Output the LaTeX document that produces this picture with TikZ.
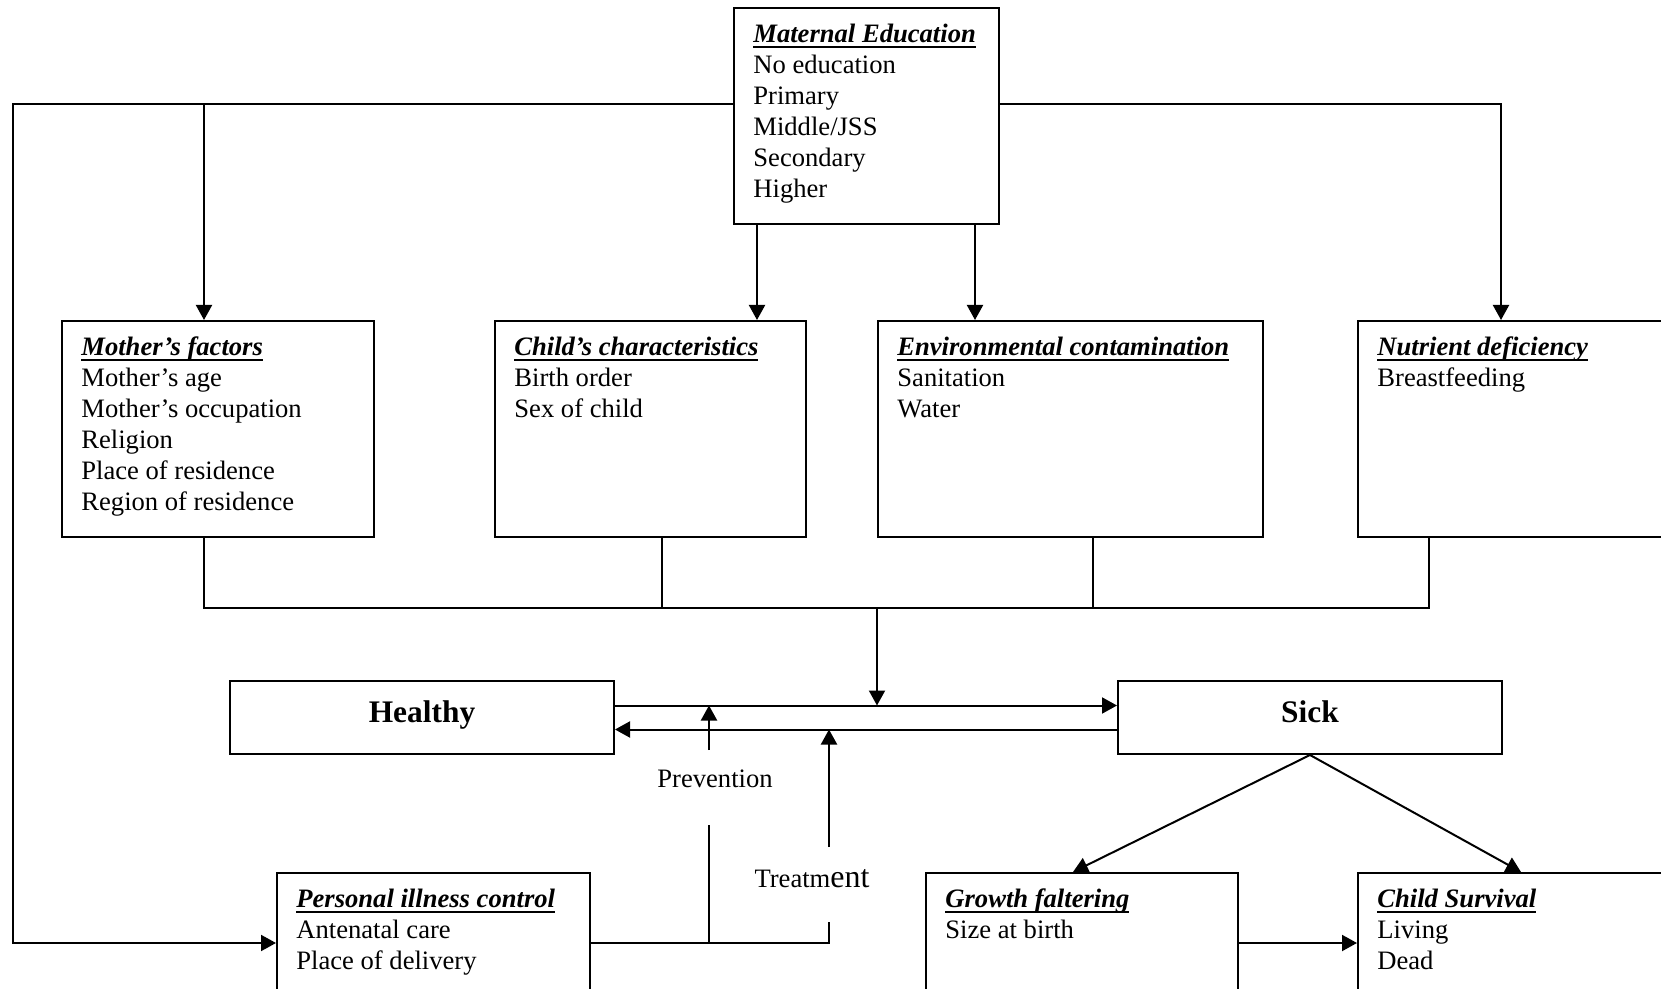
\documentclass[tikz,border=0pt]{standalone}
\usepackage{fontspec}
\setmainfont{Liberation Serif}
\usetikzlibrary{positioning,arrows.meta}

% underlined bold italic box heading
\newcommand{\hd}[1]{\setbox0\hbox{\bfseries\itshape #1}\rule{0pt}{10pt}\rlap{\copy0}\rule[-3pt]{\wd0}{1pt}}

\tikzset{
  box/.style={draw, line width=1pt, anchor=north west, inner sep=0pt},
  boxtext/.style={inner sep=0pt, align=left, font=\fontsize{13.3}{15.5}\selectfont},
  state/.style={draw, line width=1pt, anchor=north west, minimum width=192pt, minimum height=36.5pt,
    text height=10.5pt, text depth=6pt, font=\fontsize{15.7}{18}\selectfont\bfseries},
  line/.style={line width=1pt},
  arr/.style={line, -{Triangle[length=7.5pt,width=8pt]}},
  lbl/.style={font=\fontsize{13.3}{15.5}\selectfont}
}

\begin{document}
\begin{tikzpicture}[x=0.5pt,y=-0.5pt]
    \useasboundingbox (0,0) rectangle (1661,989);

    % boxes
    \node[box, minimum width=132.5pt, minimum height=108pt] (edu) at (733,7) {};
    \node[boxtext, below right=7.5pt and 10pt of edu.north west] (edu-t)
    {\hd{Maternal Education}\\No education\\Primary\\Middle/JSS\\Secondary\\Higher};

    \node[box, minimum width=156pt, minimum height=108pt] (mother) at (61,320) {};
    \node[boxtext, below right=7.5pt and 10pt of mother.north west] (mother-t)
    {\hd{Mother's factors}\\Mother's age\\Mother's occupation\\Religion\\Place of residence\\Region of residence};

    \node[box, minimum width=155.5pt, minimum height=108pt] (child) at (494,320) {};
    \node[boxtext, below right=7.5pt and 10pt of child.north west] (child-t)
    {\hd{Child's characteristics}\\Birth order\\Sex of child};

    \node[box, minimum width=192.5pt, minimum height=108pt] (env) at (877,320) {};
    \node[boxtext, below right=7.5pt and 10pt of env.north west] (env-t)
    {\hd{Environmental contamination}\\Sanitation\\Water};

    \node[box, minimum width=160pt, minimum height=108pt] (nutr) at (1357,320) {};
    \node[boxtext, below right=7.5pt and 10pt of nutr.north west] (nutr-t)
    {\hd{Nutrient deficiency}\\Breastfeeding};

    \node[state] (healthy) at (229,680) {Healthy};
    \node[state] (sick) at (1117,680) {Sick};

    \node[box, minimum width=156.5pt, minimum height=70pt] (personal) at (276,872) {};
    \node[boxtext, below right=7.5pt and 10pt of personal.north west] (personal-t)
    {\hd{Personal illness control}\\Antenatal care\\Place of delivery};

    \node[box, minimum width=156pt, minimum height=70pt] (growth) at (925,872) {};
    \node[boxtext, below right=7.5pt and 10pt of growth.north west] (growth-t)
    {\hd{Growth faltering}\\Size at birth};

    \node[box, minimum width=160pt, minimum height=70pt] (survival) at (1357,872) {};
    \node[boxtext, below right=7.5pt and 10pt of survival.north west] (survival-t)
    {\hd{Child Survival}\\Living\\Dead};

    \node[lbl] (prev) at (715,779) {Prevention};
    \node[lbl] (treat) at (812,879) {Treatm{\fontsize{16}{16}\selectfont ent}};

    % helper points
    \coordinate (bus) at (0,104);
    \coordinate (farleft) at (13,0);
    \coordinate (mbr) at (204,0);
    \coordinate (rbr) at (1501,0);
    \coordinate (merge) at (877,608);
    \coordinate (upper) at ([yshift=6pt]healthy.east);
    \coordinate (lower) at ([yshift=-6pt]healthy.east);
    \coordinate (prevtop) at (709,750);
    \coordinate (prevbot) at (709,825);
    \coordinate (treattop) at (829,847);
    \coordinate (treatbot) at (829,922);

    % from maternal education
    \draw[arr] (edu.west |- bus) -- (farleft |- bus) -- (farleft |- personal.west) -- (personal.west);
    \draw[arr] (mbr |- bus) -- (mbr |- mother.north);
    \draw[arr] ([xshift=12pt]edu.south west) -- ([xshift=12pt]edu.south west |- child.north);
    \draw[arr] ([xshift=-12.5pt]edu.south east) -- ([xshift=-12.5pt]edu.south east |- env.north);
    \draw[arr] (edu.east |- bus) -- (rbr |- bus) -- (rbr |- nutr.north);

    % into the healthy/sick line
    \draw[line] (mbr |- mother.south) |- (merge);
    \draw[line] ([xshift=84pt]child.south west) |- (merge);
    \draw[line] ([xshift=108pt]env.south west) |- (merge);
    \draw[line] ([xshift=36pt]nutr.south west) |- (merge);
    \draw[arr] (merge) -- (merge |- upper);

    \draw[arr] (upper) -- (upper -| sick.west);
    \draw[arr] (lower -| sick.west) -- (lower);

    % prevention and treatment
    \draw[arr] (prevtop) -- (prevtop |- upper);
    \draw[arr] (treattop) -- (treattop |- lower);
    \draw[line] (personal.east) -| (treatbot);
    \draw[line] (prevbot) -- (prevbot |- personal.east);

    % outcomes
    \draw[arr] (sick.south) -- ([xshift=74pt]growth.north west);
    \draw[arr] (sick.south) -- ([xshift=82pt]survival.north west);
    \draw[arr] (growth.east) -- (survival.west);
\end{tikzpicture}
\end{document}
